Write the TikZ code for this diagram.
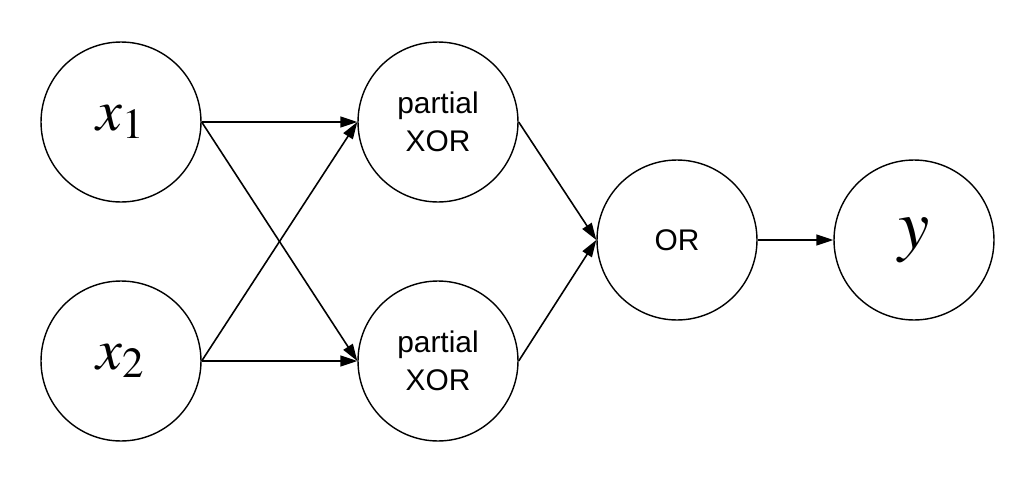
\documentclass[tikz,border=0pt]{standalone}
\usepackage{mathptmx}
\usepackage{fontspec}
\newfontfamily\gatefont{Liberation Sans}
\usetikzlibrary{arrows.meta}

\begin{document}
\begin{tikzpicture}[x=0.02cm, y=-0.02cm,
        neuron/.style={draw, circle, line width=0.8pt, minimum size=3.2cm, inner sep=0pt},
        gate/.style={neuron, font=\gatefont\fontsize{17}{21.5}\selectfont, align=center},
        var/.style={neuron, font=\fontsize{33}{38}\selectfont},
        link/.style={-{Triangle[length=0.34cm, width=0.22cm]}, line width=0.9pt}]
        \useasboundingbox (0, 0) rectangle (1035, 480);

        \node[var] (x1) at (121, 122) {$x_1$};
        \node[var] (x2) at (121, 361) {$x_2$};

        \node[gate] (pxor1) at (438, 122) {partial\\XOR};
        \node[gate] (pxor2) at (438, 361) {partial\\XOR};

        \node[gate] (or) at (677, 240) {OR};
        \node[var, font=\fontsize{40}{46}\selectfont] (y) at (914, 240) {$y$};

        \draw[link] (x1.east) -- (pxor1.west);
        \draw[link] (x1.east) -- (pxor2.west);
        \draw[link] (x2.east) -- (pxor1.west);
        \draw[link] (x2.east) -- (pxor2.west);

        \draw[link] (pxor1.east) -- (or.west);
        \draw[link] (pxor2.east) -- (or.west);
        \draw[link] (or.east) -- (y.west);

    \end{tikzpicture}
\end{document}
